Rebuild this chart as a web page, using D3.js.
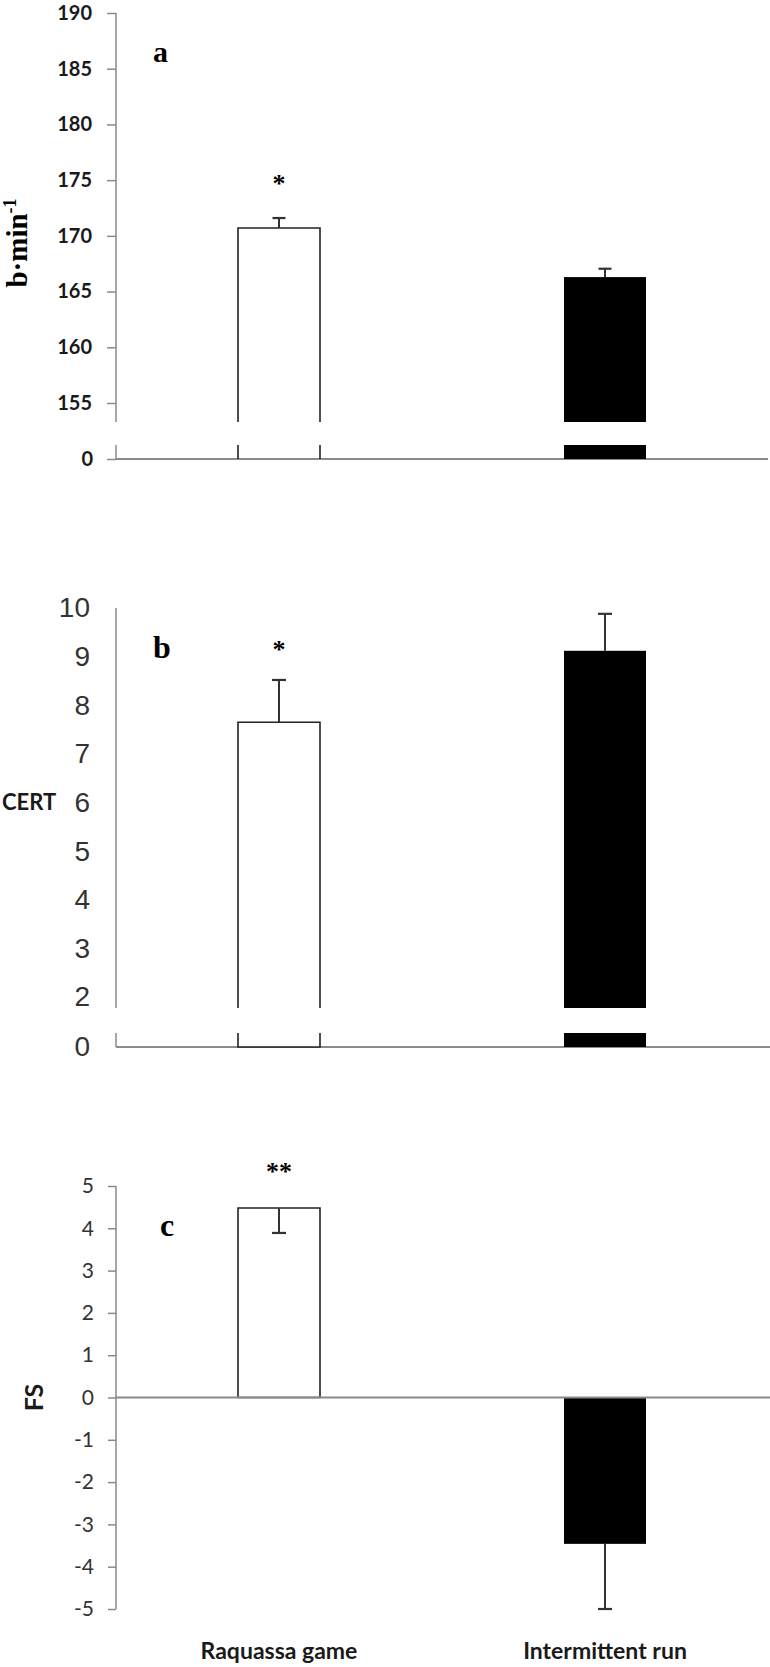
<!DOCTYPE html>
<html>
<head>
<meta charset="utf-8">
<script src="https://cdn.jsdelivr.net/npm/d3@7"></script>
<style>
  body { margin: 0; background: #fff; }
</style>
</head>
<body>
<div id="chart"></div>
<script>
// Values
const categories = ["Raquassa game", "Intermittent run"];
const heartRate = [170.7, 166.3];
const heartRateSE = [0.9, 0.75];
const cert = [7.65, 9.12];
const certSE = [0.87, 0.76];
const feeling = [4.48, -3.46];
const feelingSE = [0.59, 1.54];
const hrTicks = [155, 160, 165, 170, 175, 180, 185, 190];
const certTicks = [2, 3, 4, 5, 6, 7, 8, 9, 10];
const fsTicks = [5, 4, 3, 2, 1, 0, -1, -2, -3, -4, -5];
const barFills = ["#fff", "#000"];

const width = 770, height = 1667;
const axisX = 116, rightX = 768, barW = 82;
const axisColor = "#8a8a8a";
const sans = "Lato, 'Open Sans', sans-serif";
const serif = "'Liberation Serif', 'Times New Roman', serif";

const svg = d3.select("#chart").append("svg")
    .attr("width", width)
    .attr("height", height)
    .style("background", "#fff");

const x = d3.scalePoint().domain(categories).range([axisX, rightX]).padding(0.5);

// Draw a bar between two pixel rows; white bars are outlined,
// with the top / bottom edge left open where the axis is broken
function drawBar(g, cat, i, yTop, yBottom, drawTop, drawBottom) {
    const x0 = x(cat) - barW / 2, x1 = x(cat) + barW / 2;
    if (barFills[i] === "#000") {
        g.append("rect")
            .attr("x", x0).attr("y", yTop)
            .attr("width", barW).attr("height", yBottom - yTop)
            .attr("fill", "#000");
        return;
    }
    const p = d3.path();
    if (drawTop) {
        p.moveTo(x0, yBottom); p.lineTo(x0, yTop); p.lineTo(x1, yTop); p.lineTo(x1, yBottom);
        if (drawBottom) p.closePath();
    } else {
        p.moveTo(x0, yTop); p.lineTo(x0, yBottom);
        if (drawBottom) p.lineTo(x1, yBottom); else p.moveTo(x1, yBottom);
        p.lineTo(x1, yTop);
    }
    g.append("path").attr("d", p.toString())
        .attr("fill", "#fff").attr("stroke", "#222").attr("stroke-width", 1.6);
}

function errorBar(g, cat, y1, y2, cap) {
    const cx = x(cat);
    g.append("line").attr("x1", cx).attr("x2", cx).attr("y1", y1).attr("y2", y2)
        .attr("stroke", "#333").attr("stroke-width", 2);
    g.append("line").attr("x1", cx - cap / 2).attr("x2", cx + cap / 2).attr("y1", y2).attr("y2", y2)
        .attr("stroke", "#333").attr("stroke-width", 2.2);
}

function vline(g, xx, y1, y2) {
    g.append("line").attr("x1", xx).attr("x2", xx).attr("y1", y1).attr("y2", y2)
        .attr("stroke", axisColor).attr("stroke-width", 1.5);
}
function hline(g, yy, x1, x2) {
    g.append("line").attr("x1", x1).attr("x2", x2).attr("y1", yy).attr("y2", yy)
        .attr("stroke", axisColor).attr("stroke-width", 1.8);
}

function styleAxis(sel, font, size, weight, color) {
    sel.select(".domain").remove();
    sel.selectAll(".tick line").attr("stroke", axisColor).attr("stroke-width", 1.5);
    sel.selectAll(".tick text")
        .attr("font-family", font)
        .attr("font-size", size)
        .attr("font-weight", weight)
        .attr("fill", color);
}

// ---------- Panel a: heart rate, broken axis ----------
const gA = svg.append("g");
const yA = d3.scaleLinear().domain([155, 190]).range([403, 13]);
const breakA = 422;
const lowA = d3.scaleLinear().domain([0, 1]).range([459, 445]);

gA.append("g").attr("transform", `translate(${axisX},0)`)
    .call(d3.axisLeft(yA).tickValues(hrTicks).tickSize(9).tickPadding(15))
    .call(s => styleAxis(s, sans, 20, 700, "#1a1a1a"));
gA.append("g").attr("transform", `translate(${axisX},0)`)
    .call(d3.axisLeft(lowA).tickValues([0]).tickSize(9).tickPadding(14).tickFormat(d => String(d)))
    .call(s => styleAxis(s, sans, 20, 700, "#1a1a1a"));
vline(gA, axisX, yA(190), breakA);
vline(gA, axisX, lowA(1), lowA(0));
hline(gA, lowA(0), axisX, rightX);

categories.forEach((c, i) => {
    drawBar(gA, c, i, yA(heartRate[i]), breakA, true, false);
    drawBar(gA, c, i, lowA(1), lowA(0), false, false);
    errorBar(gA, c, yA(heartRate[i]), yA(heartRate[i] + heartRateSE[i]), 13);
});
gA.append("text").attr("x", x(categories[0])).attr("y", 192)
    .attr("text-anchor", "middle")
    .attr("font-family", serif)
    .attr("font-size", 26).attr("font-weight", 700).text("*");
gA.append("text").attr("x", 153).attr("y", 62)
    .attr("font-family", serif)
    .attr("font-size", 30).attr("font-weight", 700).text("a");
const yLabA = gA.append("text")
    .attr("transform", "translate(27,243) rotate(-90)")
    .attr("text-anchor", "middle")
    .attr("font-family", serif)
    .attr("font-size", 29).attr("font-weight", 700);
yLabA.append("tspan").text("b·min");
yLabA.append("tspan").attr("dy", -11).attr("font-size", 18).text("-1");

// ---------- Panel b: CERT, broken axis ----------
const gB = svg.append("g");
const yB = d3.scaleLinear().domain([2, 10]).range([997, 608]);
const breakB = 1008;
const lowB = d3.scaleLinear().domain([0, 1]).range([1047, 1033]);
const narrow = "'Liberation Sans Narrow', 'Arial Narrow', Arial, sans-serif";

gB.append("g").attr("transform", `translate(${axisX},0)`)
    .call(d3.axisLeft(yB).tickValues(certTicks).tickSize(0).tickPadding(26))
    .call(s => styleAxis(s, narrow, 28, 400, "#333"));
gB.append("g").attr("transform", `translate(${axisX},0)`)
    .call(d3.axisLeft(lowB).tickValues([0]).tickSize(0).tickPadding(26).tickFormat(d => String(d)))
    .call(s => styleAxis(s, narrow, 28, 400, "#333"));
vline(gB, axisX, yB(10), breakB);
vline(gB, axisX, lowB(1), lowB(0));
hline(gB, lowB(0), axisX, 770);

categories.forEach((c, i) => {
    drawBar(gB, c, i, yB(cert[i]), breakB, true, false);
    drawBar(gB, c, i, lowB(1), lowB(0), false, true);
    errorBar(gB, c, yB(cert[i]), yB(cert[i] + certSE[i]), 14);
});
gB.append("text").attr("x", x(categories[0])).attr("y", 658)
    .attr("text-anchor", "middle")
    .attr("font-family", serif)
    .attr("font-size", 26).attr("font-weight", 700).text("*");
gB.append("text").attr("x", 153).attr("y", 658)
    .attr("font-family", serif)
    .attr("font-size", 32).attr("font-weight", 700).text("b");
gB.append("text").attr("x", 2).attr("y", yB(6)).attr("dy", "0.35em")
    .attr("font-family", sans)
    .attr("font-size", 22).attr("font-weight", 700).attr("fill", "#1a1a1a").text("CERT");

// ---------- Panel c: feeling scale ----------
const gC = svg.append("g");
const yC = d3.scaleLinear().domain([-5, 5]).range([1609, 1186]);

gC.append("g").attr("transform", `translate(${axisX},0)`)
    .call(d3.axisLeft(yC).tickValues(fsTicks).tickSize(8).tickPadding(14)
        .tickFormat(d => String(d)))
    .call(s => styleAxis(s, sans, 21, 400, "#333"));
vline(gC, axisX, yC(5), yC(-5));

categories.forEach((c, i) => {
    const v = feeling[i];
    drawBar(gC, c, i, yC(Math.max(v, 0)), yC(Math.min(v, 0)), true, true);
    errorBar(gC, c, yC(v), yC(v - feelingSE[i]), 14);
});
hline(gC, yC(0), axisX, 770);
gC.append("text").attr("x", x(categories[0])).attr("y", 1180)
    .attr("text-anchor", "middle")
    .attr("font-family", serif)
    .attr("font-size", 26).attr("font-weight", 700).text("**");
gC.append("text").attr("x", 160).attr("y", 1236)
    .attr("font-family", serif)
    .attr("font-size", 32).attr("font-weight", 700).text("c");
gC.append("text")
    .attr("transform", `translate(43,${yC(0)}) rotate(-90)`)
    .attr("text-anchor", "middle")
    .attr("font-family", sans)
    .attr("font-size", 25).attr("font-weight", 700).attr("fill", "#1a1a1a").text("FS");

// Category labels
svg.append("g").selectAll("text")
    .data(categories)
    .enter().append("text")
    .attr("x", d => x(d))
    .attr("y", 1659)
    .attr("text-anchor", "middle")
    .attr("font-family", sans)
    .attr("font-size", 23)
    .attr("font-weight", 700)
    .attr("fill", "#1a1a1a")
    .text(d => d);
</script>
</body>
</html>
